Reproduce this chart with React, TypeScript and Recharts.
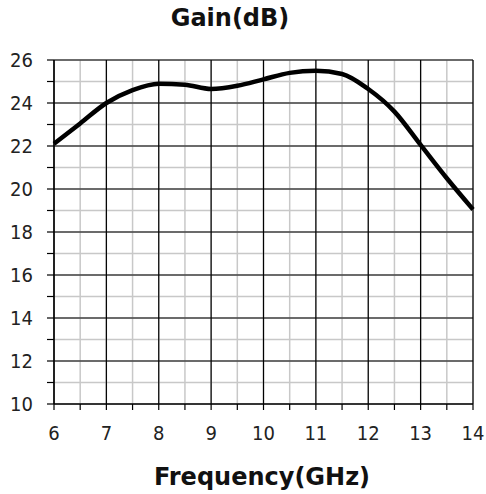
import { LineChart, Line, XAxis, YAxis, CartesianGrid, ReferenceLine } from 'recharts';

const frequency = [6, 6.5, 7, 7.5, 8, 8.5, 9, 9.5, 10, 10.5, 11, 11.5, 12, 12.5, 13, 13.5, 14];
const gain = [22.1, 23.05, 24.0, 24.6, 24.9, 24.85, 24.65, 24.8, 25.1, 25.4, 25.5, 25.35, 24.65, 23.6, 22.05, 20.5, 19.05];

const xTicks = [6, 6.5, 7, 7.5, 8, 8.5, 9, 9.5, 10, 10.5, 11, 11.5, 12, 12.5, 13, 13.5, 14];
const xMajor = [6, 7, 8, 9, 10, 11, 12, 13, 14];
const yTicks = [10, 11, 12, 13, 14, 15, 16, 17, 18, 19, 20, 21, 22, 23, 24, 25, 26];
const yMajor = [10, 12, 14, 16, 18, 20, 22, 24, 26];

const data = frequency.map((f, i) => ({ f, gain: gain[i] }));

const tickStyle = { fontFamily: '"DejaVu Sans Condensed", "DejaVu Sans", sans-serif', fontSize: 20, fill: '#222' };
const titleStyle: React.CSSProperties = {
  position: 'absolute',
  fontFamily: '"DejaVu Sans", sans-serif',
  fontWeight: 'bold',
  fontSize: 24,
  lineHeight: '24px',
  color: '#111',
  whiteSpace: 'nowrap',
  transform: 'translateX(-50%)',
};

const App = () => {
  return (
    <div style={{ position: 'absolute', left: 0, top: 0, width: 486, height: 494, background: '#fff' }}>
      <div style={{ ...titleStyle, left: 230, top: 6 }}>Gain(dB)</div>
      <LineChart width={486} height={494} data={data} margin={{ top: 60, right: 13, bottom: 0, left: 0 }}>
        <CartesianGrid stroke="#c8c8c8" strokeWidth={1.5} />
        {xMajor.map((v) => (
          <ReferenceLine key={`x-${v}`} x={v} stroke="#000" strokeWidth={1.2} />
        ))}
        {yMajor.map((v) => (
          <ReferenceLine key={`y-${v}`} y={v} stroke="#000" strokeWidth={1.2} />
        ))}
        <XAxis
          dataKey="f"
          type="number"
          domain={[6, 14]}
          ticks={xTicks}
          interval={0}
          tickFormatter={(v) => (Number.isInteger(v) ? String(v) : '')}
          height={90}
          tickSize={6}
          tickMargin={16}
          axisLine={{ stroke: '#000', strokeWidth: 1.2 }}
          tickLine={{ stroke: '#000', strokeWidth: 1.2 }}
          tick={tickStyle}
        />
        <YAxis
          type="number"
          domain={[10, 26]}
          ticks={yTicks}
          interval={0}
          tickFormatter={(v) => (v % 2 === 0 ? String(v) : '')}
          width={54}
          tickSize={7}
          tickMargin={14}
          axisLine={{ stroke: '#000', strokeWidth: 1.2 }}
          tickLine={{ stroke: '#000', strokeWidth: 1.2 }}
          tick={tickStyle}
        />
        <Line
          type="monotone"
          dataKey="gain"
          stroke="#000"
          strokeWidth={4.5}
          dot={false}
          isAnimationActive={false}
        />
      </LineChart>
      <div style={{ ...titleStyle, left: 262, top: 465 }}>Frequency(GHz)</div>
    </div>
  );
};

export default App;
